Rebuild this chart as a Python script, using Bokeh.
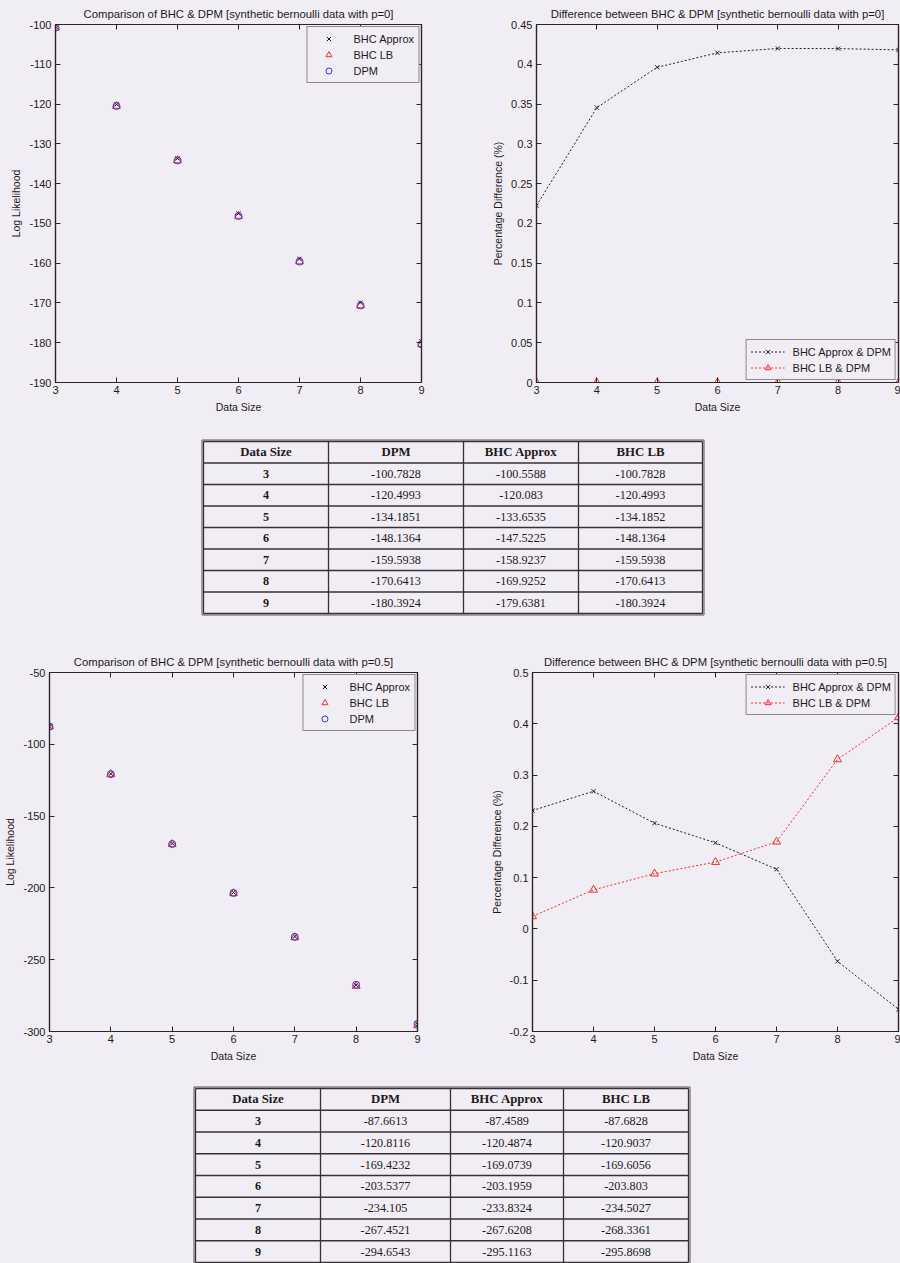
from bokeh.plotting import figure
from bokeh.layouts import column, row
from bokeh.models import Range1d, FixedTicker, LinearAxis, CustomJSTickFormatter
from bokeh.embed import file_html
from bokeh.resources import INLINE
from bokeh.core.properties import value

# ---------------- data ----------------
data_size = [3, 4, 5, 6, 7, 8, 9]

# synthetic bernoulli data with p=0
dpm_p0 = [-100.7828, -120.4993, -134.1851, -148.1364, -159.5938, -170.6413, -180.3924]
approx_p0 = [-100.5588, -120.083, -133.6535, -147.5225, -158.9237, -169.9252, -179.6381]
lb_p0 = [-100.7828, -120.4993, -134.1852, -148.1364, -159.5938, -170.6413, -180.3924]
pct_approx_p0 = [0.2223, 0.3455, 0.3962, 0.4144, 0.4199, 0.4197, 0.4181]
pct_lb_p0 = [0.0, 0.0, 0.0, 0.0, 0.0, 0.0, 0.0]

# synthetic bernoulli data with p=0.5
dpm_p05 = [-87.6613, -120.8116, -169.4232, -203.5377, -234.105, -267.4521, -294.6543]
approx_p05 = [-87.4589, -120.4874, -169.0739, -203.1959, -233.8324, -267.6208, -295.1163]
lb_p05 = [-87.6828, -120.9037, -169.6056, -203.803, -234.5027, -268.3361, -295.8698]
pct_approx_p05 = [0.2309, 0.2684, 0.2062, 0.1679, 0.1164, -0.0631, -0.1568]
pct_lb_p05 = [0.0245, 0.0762, 0.1077, 0.1303, 0.1699, 0.3305, 0.4125]

x_ticks = [3, 4, 5, 6, 7, 8, 9]
y_ticks_ll_p0 = [-190, -180, -170, -160, -150, -140, -130, -120, -110, -100]
y_ticks_pct_p0 = [0, 0.05, 0.1, 0.15, 0.2, 0.25, 0.3, 0.35, 0.4, 0.45]
y_ticks_ll_p05 = [-300, -250, -200, -150, -100, -50]
y_ticks_pct_p05 = [-0.2, -0.1, 0, 0.1, 0.2, 0.3, 0.4, 0.5]

table_header = ["Data Size", "DPM", "BHC Approx", "BHC LB"]

# ---------------- style ----------------
BG = "#f1edf4"
AX = "#2e2428"
TXT = "#1e1a1c"
FONT = "Liberation Sans"
SERIF = "Liberation Serif"
RED = "#e8322a"
BLUE = "#3a3ad0"

fmt = CustomJSTickFormatter(code="return String(Number(tick.toFixed(4)));")


def style_axis(ax, show_labels=True):
    ax.axis_line_color = AX
    ax.axis_line_width = 1.2
    ax.major_tick_line_color = AX
    ax.minor_tick_line_color = None
    ax.major_tick_in = 5
    ax.major_tick_out = 0
    if show_labels:
        ax.major_label_text_font = FONT
        ax.major_label_text_font_size = "11px"
        ax.major_label_text_color = TXT
        ax.axis_label_text_font = FONT
        ax.axis_label_text_font_size = "10.5px"
        ax.axis_label_text_font_style = "normal"
        ax.axis_label_text_color = TXT
    else:
        ax.major_label_text_color = None
        ax.major_label_text_font_size = "1px"
        ax.major_label_standoff = 0


def base_fig(title, w, h, bl, br, bt, bb, yr, yticks, ylabel):
    p = figure(width=w, height=h, x_range=Range1d(3, 9), y_range=Range1d(*yr),
               output_backend="svg", toolbar_location=None, title=title,
               min_border_left=bl, min_border_right=br, min_border_top=bt,
               min_border_bottom=bb, background_fill_color=BG, border_fill_color=BG)
    p.grid.visible = False
    p.outline_line_color = AX
    p.outline_line_width = 1.2
    p.title.text_font = FONT
    p.title.text_font_size = "11.3px"
    p.title.text_font_style = "normal"
    p.title.text_color = TXT
    p.title.align = "center"
    p.title.standoff = 10
    p.xaxis.ticker = FixedTicker(ticks=x_ticks)
    p.yaxis.ticker = FixedTicker(ticks=yticks)
    p.yaxis.formatter = fmt
    p.xaxis.axis_label = "Data Size"
    p.yaxis.axis_label = ylabel
    p.xaxis.major_label_standoff = 3
    p.xaxis.axis_label_standoff = 4
    p.yaxis.major_label_standoff = 4
    p.yaxis.axis_label_standoff = 4
    for ax in p.axis:
        style_axis(ax)
    top = LinearAxis(ticker=FixedTicker(ticks=x_ticks))
    style_axis(top, False)
    p.add_layout(top, "above")
    right = LinearAxis(ticker=FixedTicker(ticks=yticks))
    style_axis(right, False)
    p.add_layout(right, "right")
    return p


def style_legend(p, loc, glyph_w):
    lg = p.legend[0]
    lg.location = loc
    lg.margin = 2
    lg.padding = 4
    lg.spacing = 1
    lg.label_text_font = FONT
    lg.label_text_font_size = "11px"
    lg.label_text_color = TXT
    lg.label_height = 15
    lg.glyph_height = 15
    lg.glyph_width = glyph_w
    lg.label_standoff = 8
    lg.border_line_color = AX
    lg.border_line_width = 1.2
    lg.background_fill_color = BG
    lg.background_fill_alpha = 1


def scatter_fig(title, w, h, bl, br, bt, bb, yr, yticks, approx, lb, dpm):
    p = base_fig(title, w, h, bl, br, bt, bb, yr, yticks, "Log Likelihood")
    p.scatter(data_size, approx, marker="x", size=6, line_color="#111111",
              legend_label="BHC Approx")
    p.scatter(data_size, lb, marker="triangle", size=8, line_color=RED,
              fill_color=None, legend_label="BHC LB")
    p.scatter(data_size, dpm, marker="circle", size=7, line_color=BLUE,
              fill_color=None, legend_label="DPM")
    style_legend(p, "top_right", 34)
    return p


def pct_fig(title, w, h, bl, br, bt, bb, yr, yticks, approx, lb, loc):
    p = base_fig(title, w, h, bl, br, bt, bb, yr, yticks, "Percentage Difference (%)")
    p.line(data_size, approx, line_color="#222222", line_dash="2 2", line_width=1,
           legend_label="BHC Approx & DPM")
    p.scatter(data_size, approx, marker="x", size=6, line_color="#222222",
              legend_label="BHC Approx & DPM")
    p.line(data_size, lb, line_color=RED, line_dash="2 2", line_width=1,
           legend_label="BHC LB & DPM")
    p.scatter(data_size, lb, marker="triangle", size=8, line_color=RED,
              fill_color=None, legend_label="BHC LB & DPM")
    style_legend(p, loc, 34)
    return p


def table_fig(h, top, bottom, edges, cols):
    p = figure(width=900, height=h, x_range=Range1d(0, 900), y_range=Range1d(h, 0),
               output_backend="svg", toolbar_location=None, min_border=0,
               background_fill_color=BG, border_fill_color=BG)
    p.axis.visible = False
    p.grid.visible = False
    p.outline_line_color = None
    nrows = len(cols[0]) + 1
    rh = (bottom - top) / nrows
    xs, ys = [], []
    for i in range(nrows + 1):
        xs.append([edges[0], edges[-1]])
        ys.append([top + i * rh, top + i * rh])
    for e in edges:
        xs.append([e, e])
        ys.append([top, bottom])
    p.multi_line(xs, ys, line_color="#3a3034", line_width=1.3)
    p.rect(x=[(edges[0] + edges[-1]) / 2], y=[(top + bottom) / 2],
           width=[edges[-1] - edges[0] + 3], height=[bottom - top + 3],
           fill_color=None, line_color="#5a5055", line_width=1)
    centers = [(edges[j] + edges[j + 1]) / 2 for j in range(len(edges) - 1)]
    hy = top + rh / 2
    p.text(x=centers, y=[hy] * len(centers), text=table_header,
           text_font=value(SERIF), text_font_size="12.8px", text_font_style="bold",
           text_align="center", text_baseline="middle", text_color=TXT)
    for j, colvals in enumerate(cols):
        yy = [top + (i + 1.5) * rh for i in range(len(colvals))]
        p.text(x=[centers[j]] * len(colvals), y=yy, text=[str(v) for v in colvals],
               text_font=value(SERIF), text_font_size="12.2px",
               text_font_style="bold" if j == 0 else "normal",
               text_align="center", text_baseline="middle", text_color=TXT)
    return p


p1 = scatter_fig("Comparison of BHC & DPM [synthetic bernoulli data with p=0]",
                 450, 420, 55, 29, 24, 38, (-190, -100), y_ticks_ll_p0,
                 approx_p0, lb_p0, dpm_p0)
p2 = pct_fig("Difference between BHC & DPM [synthetic bernoulli data with p=0]",
             450, 420, 86, 2, 24, 38, (0, 0.45), y_ticks_pct_p0,
             pct_approx_p0, pct_lb_p0, "bottom_right")
t1 = table_fig(210, 21, 193, [203, 328, 463, 578, 702],
               [data_size, dpm_p0, approx_p0, lb_p0])
p3 = scatter_fig("Comparison of BHC & DPM [synthetic bernoulli data with p=0.5]",
                 450, 440, 49, 33, 42, 39, (-300, -50), y_ticks_ll_p05,
                 approx_p05, lb_p05, dpm_p05)
p4 = pct_fig("Difference between BHC & DPM [synthetic bernoulli data with p=0.5]",
             450, 440, 82, 2, 42, 39, (-0.2, 0.5), y_ticks_pct_p05,
             pct_approx_p05, pct_lb_p05, "top_right")
t2 = table_fig(193, 18, 192, [195, 320, 450, 563, 688],
               [data_size, dpm_p05, approx_p05, lb_p05])

layout = column(row(p1, p2), t1, row(p3, p4), t2, spacing=0,
                styles={"background-color": BG})

open("out.html", "w").write(file_html(layout, INLINE))
